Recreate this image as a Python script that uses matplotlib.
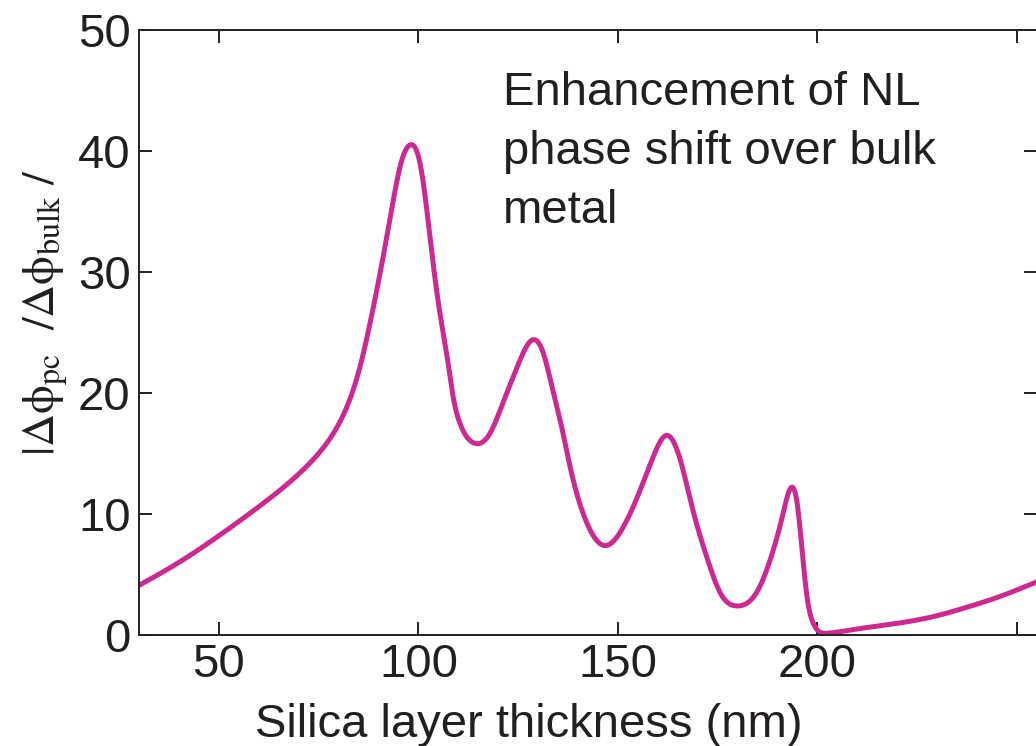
import matplotlib
matplotlib.use("Agg")
import matplotlib.pyplot as plt
import numpy as np

# Data (silica thickness nm, enhancement factor)
thickness = [30, 40, 50, 60, 70, 75, 80, 85.4, 88.6, 91.2, 93.7, 95.9, 97.9, 100.4,
             102.2, 103.7, 105.4, 107.2, 108.7, 110.4, 113.7, 118, 121.2, 124.7,
             128.7, 131.3, 133.5, 135.5, 137.3, 138.8, 141, 143, 146.5, 151.3, 155.6,
             158.8, 162.3, 165.6, 168.8, 172.4, 175.6, 179.9, 184.9, 188.9, 191.2,
             193.2, 194.9, 196.2, 197.4, 198.9, 202.4, 210, 220.7, 230, 237.5, 245, 255]
enhancement = [4.1, 6.0, 8.2, 10.6, 13.3, 15.0, 17.4, 22.2, 26.9, 31.3, 35.9, 39.3, 40.5, 39.0,
               34.9, 30.7, 26.6, 23.0, 19.7, 17.5, 15.9, 16.7, 19.2, 22.1,
               24.4, 23.3, 20.5, 17.8, 15.0, 12.8, 10.3, 8.7, 7.4, 8.9, 12.0,
               14.7, 16.5, 14.5, 10.3, 6.3, 3.5, 2.4, 3.6, 7.0, 9.8,
               12.1, 10.9, 6.8, 3.1, 1.0, 0.15, 0.5, 1.0, 1.6, 2.3, 3.1, 4.4]

xticks = [50, 100, 150, 200, 250]
xtick_labels = ["50", "100", "150", "200", ""]
yticks = [0, 10, 20, 30, 40, 50]
note_lines = ["Enhancement of NL", "phase shift over bulk", "metal"]

ink = "#231F20"
line_color = "#CC2A92"

plt.rcParams['font.family'] = ['Liberation Sans', 'DejaVu Sans']
plt.rcParams['mathtext.fontset'] = 'stix'


def natural_spline(x, y, xn):
    x = np.asarray(x, float); y = np.asarray(y, float)
    n = len(x); h = np.diff(x)
    A = np.zeros((n, n)); r = np.zeros(n)
    A[0, 0] = A[-1, -1] = 1.0
    for i in range(1, n - 1):
        A[i, i - 1] = h[i - 1]; A[i, i] = 2 * (h[i - 1] + h[i]); A[i, i + 1] = h[i]
        r[i] = 6 * ((y[i + 1] - y[i]) / h[i] - (y[i] - y[i - 1]) / h[i - 1])
    M = np.linalg.solve(A, r)
    idx = np.clip(np.searchsorted(x, xn) - 1, 0, n - 2)
    x0 = x[idx]; x1 = x[idx + 1]; hh = h[idx]
    a = (x1 - xn) / hh; b = (xn - x0) / hh
    return (a * y[idx] + b * y[idx + 1]
            + ((a**3 - a) * M[idx] + (b**3 - b) * M[idx + 1]) * hh**2 / 6)


W, H = 1036, 746
fig = plt.figure(figsize=(W / 100, H / 100), dpi=100)
ax = fig.add_axes([139 / W, 1 - 635 / H, 898 / W, 605 / H])

xs = np.linspace(thickness[0], thickness[-1], 3000)
ys = np.maximum(natural_spline(thickness, enhancement, xs), 0.08)
ax.plot(xs, ys, color=line_color, lw=3.6, solid_capstyle='round')

ax.set_xlim(30, 255)
ax.set_ylim(0, 50)
ax.set_xticks(xticks)
ax.set_xticklabels(xtick_labels)
ax.set_yticks(yticks)
ax.tick_params(direction='in', length=9.5, width=1.4, colors=ink, labelsize=34,
               top=True, right=True, pad=6)
for s in ax.spines.values():
    s.set_linewidth(1.4)
    s.set_color(ink)

for line, base in zip(note_lines, [105, 164, 223]):
    fig.text(503 / W, 1 - base / H, line, ha='left', va='baseline',
             fontsize=34, color=ink)

fig.text(529 / W, 9 / H, "Silica layer thickness (nm)", ha='center', va='baseline',
         fontsize=34, color=ink)

fig.text(46 / W, 1 - 313 / H,
         r'$\mathrm{|\Delta ϕ_{pc}\ \ /\Delta ϕ_{bulk}\ /}$',
         rotation=90, ha='center', va='center', fontsize=33, color=ink)

fig.savefig("out.png", dpi=100)
